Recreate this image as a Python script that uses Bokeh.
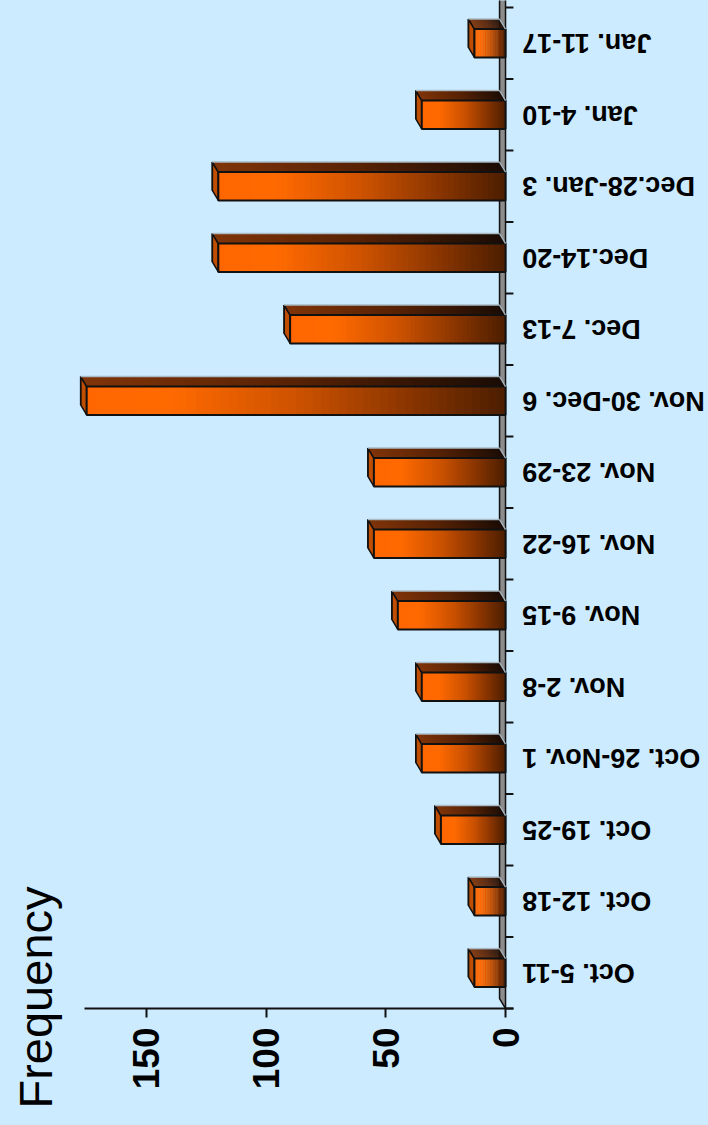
import math
from bokeh.plotting import figure
from bokeh.models import Range1d, FixedTicker, Label, LinearAxis, GlobalInlineStyleSheet
from bokeh.core.properties import value
from bokeh.embed import file_html
from bokeh.resources import INLINE

# ---- data ----
categories = ["Oct. 5-11", "Oct. 12-18", "Oct. 19-25", "Oct. 26-Nov. 1", "Nov. 2-8",
              "Nov. 9-15", "Nov. 16-22", "Nov. 23-29", "Nov. 30-Dec. 6", "Dec. 7-13",
              "Dec.14-20", "Dec.28-Jan. 3", "Jan. 4-10", "Jan. 11-17"]
frequency = [13, 13, 27, 35, 35, 45, 55, 55, 175, 90, 120, 120, 35, 13]
value_ticks = [0, 50, 100, 150]
axis_title = "Frequency"

# ---- style / layout constants ----
BG = "#CCEBFF"
DV = 2.5      # 3D depth in value units
DY = 0.14     # 3D depth in category units
HALF = 0.198  # half bar thickness
NSEG = 50
FONT = "Liberation Sans"

front_stops = [(0.0, (255, 102, 0)), (0.2, (255, 106, 0)), (0.5, (205, 82, 0)),
               (0.78, (135, 52, 0)), (1.0, (75, 30, 0))]
top_stops = [(0.0, (128, 52, 8)), (0.5, (88, 34, 5)), (1.0, (26, 12, 5))]


def grad(stops, t):
    for (t0, c0), (t1, c1) in zip(stops[:-1], stops[1:]):
        if t <= t1:
            f = (t - t0) / (t1 - t0) if t1 > t0 else 0
            c = [round(a + (b - a) * f) for a, b in zip(c0, c1)]
            return "#%02x%02x%02x" % tuple(c)
    return "#%02x%02x%02x" % stops[-1][1]


n = len(categories)
idx = list(range(n))

p = figure(width=708, height=1125, title=None,
           x_range=Range1d(211.0, -84.8), y_range=Range1d(-2.136, n - 0.5 + 0.098),
           output_backend="svg", toolbar_location=None,
           x_axis_location=None, y_axis_location=None,
           min_border=0,
           background_fill_color=BG, border_fill_color=BG, outline_line_color=None)
p.grid.visible = False
p.stylesheets = [GlobalInlineStyleSheet(css="html, body { background-color: %s; }" % BG)]

# back wall (seen edge-on)
p.patch([0, 0, DV, DV], [-0.5, n - 0.5 + 0.3, n - 0.5 + 0.3 + DY, -0.5 + DY],
        fill_color="#8C8C8C", line_color="#111111", line_width=1.5)

# bars
fl, fr, fb, ft, fc = [], [], [], [], []
txs, tys, tcs = [], [], []
lxs, lys = [], []
hx0, hy0, hx1, hy1 = [], [], [], []
for i, v in zip(idx, frequency):
    top = i + HALF
    bot = i - HALF
    ov = v / NSEG * 0.6
    for j in range(NSEG):
        t0 = j / NSEG
        t1 = (j + 1) / NSEG
        a = v * (1 - t0)
        b = max(v * (1 - t1) - (ov if j < NSEG - 1 else 0), 0)
        tm = (t0 + t1) / 2
        fl.append(a); fr.append(b); fb.append(bot); ft.append(top)
        fc.append(grad(front_stops, tm))
        txs.append([a, b, b + DV, a + DV])
        tys.append([top, top, top + DY, top + DY])
        tcs.append(grad(top_stops, tm))
    lxs.append([v, v, v + DV, v + DV])
    lys.append([bot, top, top + DY, bot + DY])
    hx0.append(v + DV); hy0.append(top + DY); hx1.append(DV); hy1.append(top + DY)

p.patches(lxs, lys, fill_color="#C04E00", line_color="#111111", line_width=1.5)
p.patches(txs, tys, fill_color=tcs, line_color=None)
p.quad(left=fl, right=fr, bottom=fb, top=ft, fill_color=fc, line_color=None)
# outlines
p.quad(left=frequency, right=[0] * n, bottom=[i - HALF for i in idx], top=[i + HALF for i in idx],
       fill_color=None, line_color="#111111", line_width=2)
p.multi_line([[v, v + DV] for v in frequency], [[i + HALF, i + HALF + DY] for i in idx],
             line_color="#111111", line_width=1.5)
p.multi_line([[v + DV, v + DV] for v in frequency], [[i - HALF + DY, i + HALF + DY] for i in idx],
             line_color="#111111", line_width=1.5)
p.segment(x0=hx0, y0=hy0, x1=hx1, y1=hy1, line_color="#A9BAC4", line_width=1.5)
p.multi_line([[0, DV] for v in frequency], [[i + HALF, i + HALF + DY] for i in idx],
             line_color="#A9BAC4", line_width=1.2)

# category ticks (band boundaries)
bounds_y = [k - 0.5 for k in range(n + 1)]
p.segment(x0=[0] * (n + 1), y0=bounds_y, x1=[-3.3] * (n + 1), y1=bounds_y,
          line_color="#111111", line_width=2)

# category labels (upside down)
p.text(x=[-7.0] * n, y=idx, text=categories, angle=math.pi,
       text_align="right", text_baseline="middle",
       text_font=value(FONT),
       text_font_size="27px", text_font_style="bold", text_color="#000000")

# value axis
ax = LinearAxis(fixed_location=-0.5)
ax.ticker = FixedTicker(ticks=value_ticks)
ax.bounds = (-3.3, 176)
ax.major_tick_out = 9
ax.major_tick_in = 0
ax.minor_tick_out = 0
ax.minor_tick_in = 0
ax.major_label_orientation = math.pi / 2
ax.major_label_standoff = 10
ax.major_label_text_font = FONT
ax.major_label_text_font_size = "37px"
ax.major_label_text_font_style = "bold"
ax.major_label_text_color = "#000000"
ax.axis_line_width = 2
ax.axis_line_color = "#111111"
ax.major_tick_line_width = 2
ax.major_tick_line_color = "#111111"
p.add_layout(ax, "below")

p.add_layout(Label(x=196.4, y=-0.346, text=axis_title, angle=math.pi / 2,
                   text_align="center", text_baseline="middle",
                   text_font=FONT, text_font_size="47px",
                   text_color="#000000"))

open("out.html", "w").write(file_html(p, INLINE))
